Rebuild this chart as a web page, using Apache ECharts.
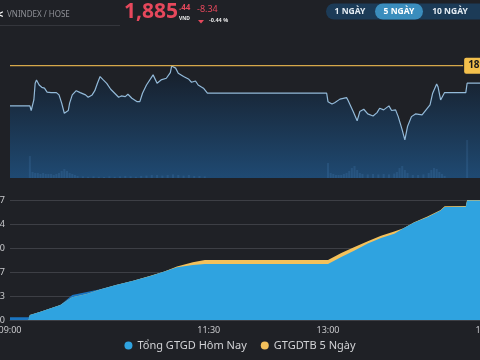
<!DOCTYPE html>
<html>
<head>
<meta charset="utf-8">
<script src="https://cdn.jsdelivr.net/npm/echarts@6/dist/echarts.min.js"></script>
<style>
html,body{margin:0;padding:0;background:#1f2126;}
#c{width:480px;height:360px;}
</style>
</head>
<body>
<div id="c"></div>
<script>
// ---- Index line (minutes after 09:00, index value) ----
const priceMinutes = [0,15,16,18,19,20,22,24,26,28,31,35,37,39,41,44,45,47,50,53,57,59,62,64,66,68,70,73,76,79,82,84,87,89,92,96,98,100,103,108,111,114,118,121,122,125,127,131,135,137,140,142,146,149,239,240,243,245,249,254,255,259,262,264,267,270,274,277,279,282,286,288,291,293,296,298,300,303,306,311,314,317,319,322,323,325,328,344,345,360];
const priceValues = [1874.7,1874.7,1872.5,1877.5,1885.4,1887.0,1884.6,1883.5,1883.1,1881.2,1881.0,1881.0,1879.9,1876.0,1871.2,1872.5,1876.0,1879.9,1881.9,1881.0,1879.9,1878.8,1879.9,1881.9,1885.4,1888.6,1887.3,1885.4,1882.6,1880.7,1878.8,1879.4,1879.1,1880.2,1878.3,1876.7,1876.7,1880.7,1884.6,1889.4,1885.4,1887.0,1887.8,1890.5,1893.6,1892.6,1890.2,1888.6,1887.3,1885.9,1886.5,1884.6,1883.1,1880.7,1880.7,1876.7,1875.6,1876.2,1877.9,1878.6,1877.5,1872.0,1867.6,1872.0,1873.1,1870.9,1869.9,1871.5,1873.6,1872.8,1874.7,1872.5,1872.8,1869.6,1863.3,1858.6,1864.9,1869.6,1870.9,1870.4,1872.8,1875.2,1880.7,1885.1,1883.8,1877.5,1881.0,1881.0,1885.44,1885.44];
const refPrice = 1893.78;
const refMinutes = [0, 342];

// ---- Volume bars (minutes, volume) ----
const volMinutes = [15,17,19,21,23,25,27,29,31,33,35,37,39,41,43,45,47,49,51,55,59,63,67,71,75,79,83,87,91,95,99,103,107,111,115,119,123,127,131,135,139,143,147,240,242,244,246,248,250,252,254,256,258,260,262,264,266,270,274,278,282,286,290,292,294,296,298,300,304,308,312,316,318,320,322,324,326,328,345];
const volValues = [110,30,25,25,20,25,20,20,20,15,20,25,35,45,35,25,20,15,10,8,6,8,6,5,8,6,8,10,8,6,10,12,15,15,12,15,18,15,12,15,10,10,8,75,25,20,15,15,15,20,25,35,50,60,40,25,20,18,20,18,20,18,22,30,50,60,40,25,15,15,18,25,40,50,45,30,20,10,190];

// ---- Cumulative trading value (minutes, today, 5-day average) ----
const valMinutes = [0,14,15,23,38,47,58,68,80,93,106,116,126,138,147,150,240,250,260,270,280,290,297,305,315,325,328,344,345,360];
const todayValues = [755,755,1399,2321,4196,6993,7832,8587,9790,10992,12307,13509,14740,15384,15663,15663,15663,17621,19439,21397,22935,24110,25648,27299,28753,30655,31634,31690,33396,33396];
const avgValues = [0,0,1399,2321,4196,6349,7272,8531,9790,10992,12350,13520,14964,16139,16782,16782,16782,18740,20418,22012,23551,24725,25648,27355,28977,30767,31802,31886,33567,33567];
const valueAxisMax = 33567;
const timeTicks = [0,150,240,360];

const seriesToday = 'Tổng GTGD Hôm Nay';
const seriesAvg = 'GTGDTB 5 Ngày';

function pairs(xs, ys){ return xs.map((x,i)=>[x, ys[i]]); }
const overlap = todayValues.map((v,i)=>Math.min(v, avgValues[i]));
function fmtTime(m){ const h = 9 + Math.floor(m/60), mm = m % 60; return (h<10?'0':'')+h+':'+(mm<10?'0':'')+mm; }

const chart = echarts.init(document.getElementById('c'), null, {renderer:'canvas'});
const red = '#e6485c';
const gold = '#d6a84a';
const option = {
  backgroundColor:'#1f2126',
  animation:false,
  textStyle:{fontFamily:'Noto Sans'},
  grid:[
    {left:10, right:-7, top:58, height:120, outerBoundsMode:'none', containLabel:false},
    {left:10, right:-7, top:200, height:120, outerBoundsMode:'none', containLabel:false}
  ],
  xAxis:[
    {gridIndex:0, type:'value', min:0, max:360, show:false},
    {gridIndex:1, type:'value', min:0, max:360,
      axisLine:{show:true, lineStyle:{color:'#3d3f45'}},
      axisTick:{show:false}, splitLine:{show:false},
      axisLabel:{customValues:timeTicks, formatter:v=>fmtTime(v), color:'#c9cacd', fontSize:9, margin:6, hideOverlap:false}}
  ],
  yAxis:[
    {gridIndex:0, type:'value', min:1840.5, max:1897.4, show:false},
    {gridIndex:0, type:'value', min:0, max:600, show:false},
    {gridIndex:1, type:'value', min:0, max:valueAxisMax, interval:valueAxisMax/5,
      axisLine:{show:false}, axisTick:{show:false},
      splitLine:{lineStyle:{color:'#3d3f45'}},
      axisLabel:{formatter:v=>Math.round(v).toLocaleString('en-US'), color:'#c9cacd', fontSize:9, margin:5}}
  ],
  legend:{
    data:[seriesToday, seriesAvg], bottom:4, left:'center',
    icon:'circle', itemWidth:8, itemHeight:8, itemGap:14,
    textStyle:{color:'#d2d3d6', fontSize:11, fontFamily:'Noto Sans'}
  },
  series:[
    {type:'bar', xAxisIndex:0, yAxisIndex:1, data:pairs(volMinutes, volValues), barWidth:2,
      itemStyle:{color:'rgba(130,175,225,0.30)'}, silent:true, z:1},
    {type:'line', xAxisIndex:0, yAxisIndex:0, data:pairs(priceMinutes, priceValues), showSymbol:false,
      lineStyle:{color:'#93bad9', width:1.2},
      areaStyle:{color:new echarts.graphic.LinearGradient(0,0,0,1,[{offset:0,color:'#131c29'},{offset:1,color:'#1f5b93'}])},
      z:2},
    {name:'ref', type:'line', xAxisIndex:0, yAxisIndex:0, data:refMinutes.map(m=>[m, refPrice]), showSymbol:false,
      silent:true, itemStyle:{color:gold}, lineStyle:{color:gold, width:1.4, opacity:1},
      endLabel:{show:true, distance:1, formatter:()=>refPrice.toFixed(2),
        backgroundColor:'#f3c04c', color:'#1a1a1a', fontWeight:'bold', fontSize:10, padding:[3,4], borderRadius:2},
      z:3},
    {name:seriesToday, type:'line', xAxisIndex:1, yAxisIndex:2, data:pairs(valMinutes, todayValues), showSymbol:false,
      itemStyle:{color:'#2fa3e0'}, lineStyle:{width:0, opacity:0}, areaStyle:{color:'#1b76c2', opacity:1}, z:1},
    {name:seriesAvg, type:'line', xAxisIndex:1, yAxisIndex:2, data:pairs(valMinutes, avgValues), showSymbol:false,
      itemStyle:{color:'#f4c15b'}, lineStyle:{width:0, opacity:0}, areaStyle:{color:'#f4c15b', opacity:1}, z:2},
    {name:'overlap', type:'line', xAxisIndex:1, yAxisIndex:2, data:pairs(valMinutes, overlap), showSymbol:false,
      itemStyle:{color:'#2fa3e0'}, lineStyle:{width:0, opacity:0}, areaStyle:{color:'#2fa3e0', opacity:1}, z:3}
  ],
  graphic:[
    {type:'text', left:-3, top:9, style:{text:'<', fill:'#ffffff', font:'bold 11px "Noto Sans"'}},
    {type:'text', left:7, top:11, style:{text:'VNINDEX / HOSE', fill:'#8e9096', font:'8px "Noto Sans"'}},
    {type:'rect', shape:{x:0, y:25, width:120, height:1}, style:{fill:'#34363c'}},
    {type:'text', left:124, top:2, style:{text:'1,885', fill:red, font:'bold 21px "Noto Sans"'}},
    {type:'text', left:179, top:4, style:{text:'.44', fill:red, font:'bold 8px "Noto Sans"'}},
    {type:'text', left:179, top:16, style:{text:'VND', fill:'#e8e8e8', font:'bold 5px "Noto Sans"'}},
    {type:'text', left:197, top:5, style:{text:'-8.34', fill:red, font:'9px "Noto Sans"'}},
    {type:'polygon', shape:{points:[[198,20],[204,20],[201,23.5]]}, style:{fill:red}},
    {type:'text', left:209, top:17, style:{text:'-0.44 %', fill:'#e8e8e8', font:'bold 5.5px "Noto Sans"'}},
    {type:'rect', shape:{x:326, y:3.5, width:170, height:16, r:8}, style:{fill:'#1c3b57'}},
    {type:'rect', shape:{x:375, y:3.5, width:48, height:16, r:8}, style:{fill:'#3a8dbd'}},
    {type:'text', x:350, y:11.5, style:{text:'1 NGÀY', fill:'#e4ecf3', font:'bold 8.5px "Noto Sans"', align:'center', verticalAlign:'middle'}},
    {type:'text', x:399, y:11.5, style:{text:'5 NGÀY', fill:'#ffffff', font:'bold 8.5px "Noto Sans"', align:'center', verticalAlign:'middle'}},
    {type:'text', x:450, y:11.5, style:{text:'10 NGÀY', fill:'#e4ecf3', font:'bold 8.5px "Noto Sans"', align:'center', verticalAlign:'middle'}}
  ]
};
chart.setOption(option);
</script>
</body>
</html>
